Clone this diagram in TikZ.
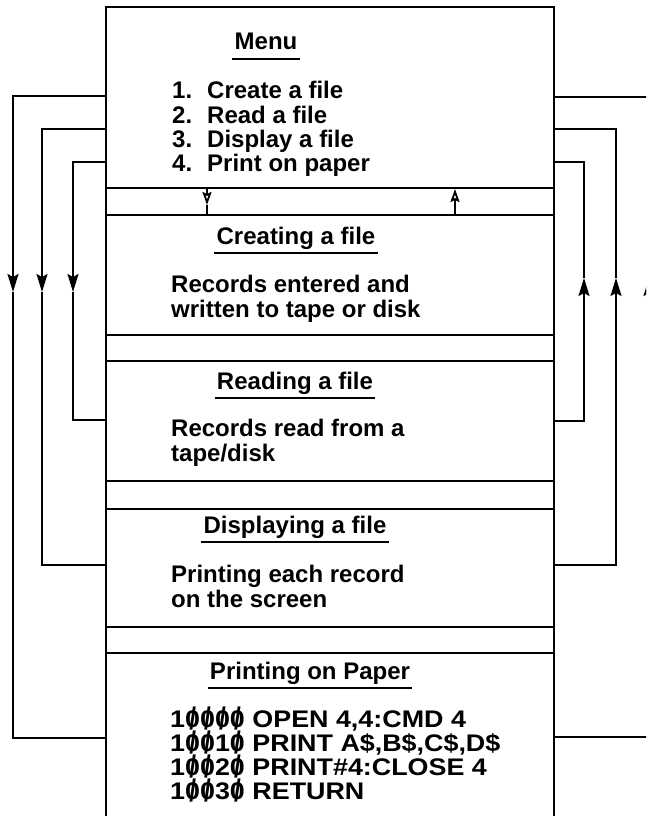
\documentclass[tikz,border=0pt]{standalone}
\usepackage{fontspec}
\setmainfont{Liberation Sans}
\usepackage{graphicx}
\usetikzlibrary{arrows.meta}
\newcommand\zs{{\ooalign{0\cr\hidewidth\raisebox{-0.12em}{\scalebox{0.9}[1.3]{/}}\hidewidth\cr}}}
\begin{document}
\begin{tikzpicture}[x=1pt,y=-1pt,
  boxline/.style={line width=2pt},
  conn/.style={line width=1.8pt},
  tipdown/.style={-{Stealth[length=18pt,width=11pt,inset=3pt]}},
  tipopen/.style={-{Stealth[open,length=13pt,width=9pt,inset=2pt]}},
  txt/.style={font=\fontsize{24}{24}\selectfont\bfseries, inner sep=0pt, anchor=base west},
  head/.style={font=\fontsize{24}{24}\selectfont\bfseries, inner sep=0pt, anchor=base},
]
\useasboundingbox (0,0) rectangle (646,816);
\clip (0,0) rectangle (646,816);

% ---------- main box (open at the bottom) ----------
\coordinate (TL) at (106,7);
\coordinate (TR) at (554,7);
\coordinate (BL) at (106,816);
\coordinate (BR) at (554,816);
\draw[boxline] (BL) -- (TL) -- (TR) -- (BR);

% bands between sections
\foreach \y/\n in {188/a,215/b,335/c,361/d,481/e,509/f,627/g,653/h}{
  \coordinate (bw\n) at (106,\y);
  \coordinate (be\n) at (554,\y);
  \draw[boxline] (bw\n) -- (be\n);
}

% ---------- texts ----------
\node[head] (hm) at (266,50) {Menu};
\draw[boxline] ([xshift=-2pt,yshift=-9pt]hm.base west) -- ([xshift=2pt,yshift=-9pt]hm.base east);
\node[txt] (m1) at (172,98)  {\makebox[35pt][l]{1.}Create a file};
\node[txt] (m2) at (172,123) {\makebox[35pt][l]{2.}Read a file};
\node[txt] (m3) at (172,147) {\makebox[35pt][l]{3.}Display a file};
\node[txt] (m4) at (172,171) {\makebox[35pt][l]{4.}Print on paper};

\node[head] (hc) at (296,244) {Creating a file};
\draw[boxline] ([xshift=-2pt,yshift=-8.5pt]hc.base west) -- ([xshift=2pt,yshift=-8.5pt]hc.base east);
\node[txt] (c1) at (171,292) {Records entered and};
\node[txt] (c2) at (171,317) {written to tape or disk};

\node[head] (hr) at (295,389) {Reading a file};
\draw[boxline] ([xshift=-2pt,yshift=-8.5pt]hr.base west) -- ([xshift=2pt,yshift=-8.5pt]hr.base east);
\node[txt] (r1) at (171,436) {Records read from a};
\node[txt] (r2) at (171,461) {tape/disk};

\node[head] (hd) at (295,533) {Displaying a file};
\draw[boxline] ([xshift=-2pt,yshift=-8.5pt]hd.base west) -- ([xshift=2pt,yshift=-8.5pt]hd.base east);
\node[txt] (d1) at (171,582) {Printing each record};
\node[txt] (d2) at (171,607) {on the screen};

\node[head] (hp) at (310,679) {Printing on Paper};
\draw[boxline] ([xshift=-2pt,yshift=-8.5pt]hp.base west) -- ([xshift=2pt,yshift=-8.5pt]hp.base east);
\node[txt] (k1) at (170,727) {\scalebox{1.12}[1]{1\zs\zs\zs\zs\ OPEN 4,4:CMD 4}};
\node[txt] (k2) at (170,751) {\scalebox{1.12}[1]{1\zs\zs1\zs\ PRINT A\$,B\$,C\$,D\$}};
\node[txt] (k3) at (170,775) {\scalebox{1.12}[1]{1\zs\zs2\zs\ PRINT\#4:CLOSE 4}};
\node[txt] (k4) at (170,799) {\scalebox{1.12}[1]{1\zs\zs3\zs\ RETURN}};

% ---------- band arrows ----------
\coordinate (bd1) at (207,188);
\coordinate (bd2) at (207,205);
\coordinate (bd3) at (207,215);
\draw[conn,tipopen] (bd1) -- (bd2);
\draw[conn] (bd2) -- (bd3);
\coordinate (bu1) at (455,215);
\coordinate (bu2) at (455,189);
\draw[conn,tipopen] (bu1) -- (bu2);

% ---------- left connectors (downwards) ----------
\coordinate (L1s) at (106,96);  \coordinate (L1a) at (13,292); \coordinate (L1e) at (106,738);
\coordinate (L2s) at (106,129); \coordinate (L2a) at (42,292); \coordinate (L2e) at (106,565);
\coordinate (L3s) at (106,162); \coordinate (L3a) at (73,292); \coordinate (L3e) at (106,420);
\draw[conn,tipdown] (L1s) -| (L1a);
\draw[conn] (L1a) |- (L1e);
\draw[conn,tipdown] (L2s) -| (L2a);
\draw[conn] (L2a) |- (L2e);
\draw[conn,tipdown] (L3s) -| (L3a);
\draw[conn] (L3a) |- (L3e);

% ---------- right connectors (upwards) ----------
\coordinate (R1s) at (554,737); \coordinate (R1a) at (649,278); \coordinate (R1e) at (554,97);
\coordinate (R2s) at (554,565); \coordinate (R2a) at (616,278); \coordinate (R2e) at (554,129);
\coordinate (R3s) at (554,421); \coordinate (R3a) at (584,278); \coordinate (R3e) at (554,162);
\draw[conn,tipdown] (R1s) -| (R1a);
\draw[conn] (R1a) |- (R1e);
\draw[conn,tipdown] (R2s) -| (R2a);
\draw[conn] (R2a) |- (R2e);
\draw[conn,tipdown] (R3s) -| (R3a);
\draw[conn] (R3a) |- (R3e);
\end{tikzpicture}
\end{document}
